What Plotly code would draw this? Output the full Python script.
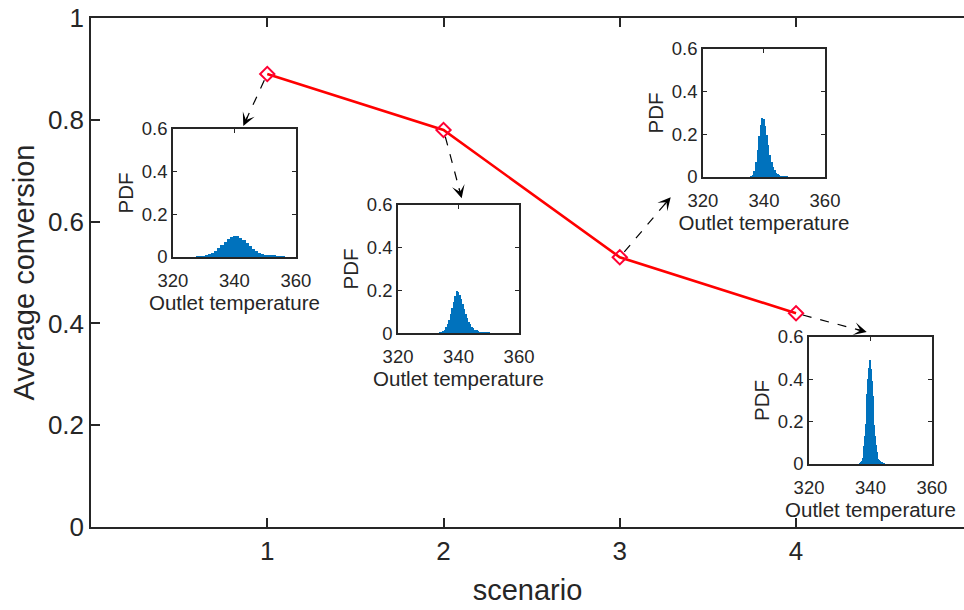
import plotly.graph_objects as go

# ---------------- data ----------------
scenarios = [1, 2, 3, 4]
avg_conversion = [0.89, 0.78, 0.53, 0.42]

x_ticks = [1, 2, 3, 4]
y_ticks = [0, 0.2, 0.4, 0.6, 0.8, 1]
y_tick_text = ["0", "0.2", "0.4", "0.6", "0.8", "1"]

inset_x_ticks = [320, 340, 360]
inset_y_ticks = [0, 0.2, 0.4, 0.6]
inset_y_text = ["0", "0.2", "0.4", "0.6"]

# histogram of outlet temperature, scenario 1 (bin width 1)
s1_centers = [328, 329, 330, 331, 332, 333, 334, 335, 336, 337, 338, 339, 340, 341, 342,
              343, 344, 345, 346, 347, 348, 349, 350, 351, 352, 353, 354, 355, 356]
s1_pdf = [0.001, 0.002, 0.004, 0.007, 0.012, 0.019, 0.029, 0.041, 0.055, 0.069, 0.083, 0.094,
          0.099, 0.097, 0.090, 0.079, 0.066, 0.052, 0.039, 0.028, 0.020, 0.014, 0.010, 0.008,
          0.006, 0.005, 0.004, 0.002, 0.001]

# scenario 2 (bin width 0.5)
s2_centers = [334.0, 334.5, 335.0, 335.5, 336.0, 336.5, 337.0, 337.5, 338.0, 338.5, 339.0,
              339.5, 340.0, 340.5, 341.0, 341.5, 342.0, 342.5, 343.0, 343.5, 344.0, 344.5,
              345.0, 345.5, 346.0, 346.5, 347.0, 347.5, 348.0, 348.5, 349.0, 349.5, 350.0]
s2_pdf = [0.002, 0.004, 0.008, 0.015, 0.026, 0.042, 0.063, 0.088, 0.116, 0.145, 0.175,
          0.195, 0.192, 0.178, 0.158, 0.135, 0.112, 0.090, 0.070, 0.053, 0.040, 0.030,
          0.022, 0.016, 0.012, 0.009, 0.007, 0.005, 0.004, 0.003, 0.002, 0.002, 0.001]

# scenario 3 (bin width 0.5)
s3_centers = [336.0, 336.5, 337.0, 337.5, 338.0, 338.5, 339.0, 339.5, 340.0, 340.5, 341.0,
              341.5, 342.0, 342.5, 343.0, 343.5, 344.0, 344.5, 345.0, 345.5, 346.0, 346.5,
              347.0, 347.5]
s3_pdf = [0.003, 0.010, 0.030, 0.070, 0.125, 0.190, 0.245, 0.278, 0.272, 0.240, 0.195,
          0.148, 0.105, 0.072, 0.048, 0.031, 0.020, 0.013, 0.009, 0.006, 0.004, 0.003,
          0.002, 0.001]

# scenario 4 (bin width 0.25)
s4_centers = [336.50, 336.75, 337.00, 337.25, 337.50, 337.75, 338.00, 338.25, 338.50, 338.75,
              339.00, 339.25, 339.50, 339.75, 340.00, 340.25, 340.50, 340.75, 341.00, 341.25,
              341.50, 341.75, 342.00, 342.25, 342.50, 342.75, 343.00, 343.25, 343.50, 343.75,
              344.00, 344.25, 344.50]
s4_pdf = [0.002, 0.004, 0.008, 0.016, 0.030, 0.052, 0.085, 0.130, 0.190, 0.260,
          0.330, 0.400, 0.455, 0.490, 0.485, 0.450, 0.390, 0.320, 0.250, 0.185,
          0.130, 0.088, 0.058, 0.038, 0.025, 0.017, 0.012, 0.009, 0.007, 0.005,
          0.004, 0.003, 0.002]

hists = [(s1_centers, s1_pdf, 1.0), (s2_centers, s2_pdf, 0.5),
         (s3_centers, s3_pdf, 0.5), (s4_centers, s4_pdf, 0.25)]

# ---------------- layout constants ----------------
W, H = 964, 610
ML, MR, MT, MB = 91, 0, 18, 83
X_RANGE = [0, 4.953]
Y_RANGE = [0, 1]

inset_domains = [
    ([0.0939, 0.2348], [0.5305, 0.7819]),
    ([0.3517, 0.4903], [0.3811, 0.6326]),
    ([0.7010, 0.8408], [0.6876, 0.9391]),
    ([0.8225, 0.9633], [0.1238, 0.3733]),
]
# arrow tips (in main-axis data coordinates)
arrow_tips = [(0.864, 0.788), (2.103, 0.646), (3.289, 0.648), (4.401, 0.383)]

FONT = "Liberation Sans, Arial, Helvetica, sans-serif"
AX = "#262626"
BLUE = "#0072BD"

fig = go.Figure()

fig.add_trace(go.Scatter(
    x=scenarios, y=avg_conversion, mode="lines+markers",
    line=dict(color="#ff0000", width=2.6),
    marker=dict(symbol="diamond-open", size=11, color="#ff0033",
                line=dict(width=2, color="#ff0033")),
    xaxis="x", yaxis="y", showlegend=False, hoverinfo="skip"))

for i, (cx, py, bw) in enumerate(hists):
    n = i + 2
    fig.add_trace(go.Bar(
        x=cx, y=py, width=[bw * 1.15] * len(cx),
        marker=dict(color=BLUE, line=dict(width=0)),
        xaxis=f"x{n}", yaxis=f"y{n}", showlegend=False, hoverinfo="skip"))

layout = dict(
    width=W, height=H,
    margin=dict(l=ML, r=MR, t=MT, b=MB, pad=0),
    paper_bgcolor="white", plot_bgcolor="rgba(0,0,0,0)",
    font=dict(family=FONT, color=AX),
    xaxis=dict(domain=[0, 1], range=X_RANGE, tickvals=x_ticks,
               ticks="inside", ticklen=9, tickwidth=1.5, tickcolor=AX,
               showline=True, linecolor=AX, linewidth=1.5, mirror="ticks",
               showgrid=False, zeroline=False,
               tickfont=dict(size=26, color=AX),
               title=dict(text="scenario", font=dict(size=29, color=AX), standoff=15),
               automargin=False),
    yaxis=dict(domain=[0, 1], range=Y_RANGE, tickvals=y_ticks, ticktext=y_tick_text,
               ticks="inside", ticklen=9, tickwidth=1.5, tickcolor=AX,
               showline=True, linecolor=AX, linewidth=1.5, mirror=False,
               showgrid=False, zeroline=False,
               tickfont=dict(size=26, color=AX),
               title=dict(text="Average conversion", font=dict(size=29, color=AX), standoff=5),
               automargin=False),
    bargap=0,
)

for i, (dx, dy) in enumerate(inset_domains):
    n = i + 2
    layout[f"xaxis{n}"] = dict(
        domain=dx, anchor=f"y{n}", range=[320, 360], tickvals=inset_x_ticks,
        ticks="inside", ticklen=4, tickwidth=1.2, tickcolor=AX,
        showline=True, linecolor=AX, linewidth=1.5, mirror="ticks",
        showgrid=False, zeroline=False, ticklabelstandoff=6, layer="below traces",
        tickfont=dict(size=18.5, color=AX),
        title=dict(text="Outlet temperature", font=dict(size=20.5, color=AX), standoff=3),
        automargin=False)
    layout[f"yaxis{n}"] = dict(
        domain=dy, anchor=f"x{n}", range=[0, 0.6], tickvals=inset_y_ticks,
        ticktext=inset_y_text,
        ticks="inside", ticklen=4, tickwidth=1.2, tickcolor=AX,
        showline=True, linecolor=AX, linewidth=1.5, mirror="ticks",
        showgrid=False, zeroline=False, layer="below traces",
        tickfont=dict(size=18.5, color=AX),
        title=dict(text="PDF", font=dict(size=20.5, color=AX), standoff=3),
        automargin=False)

fig.update_layout(**layout)

# white backgrounds for the insets
shapes = []
for dx, dy in inset_domains:
    shapes.append(dict(type="rect", xref="paper", yref="paper",
                       x0=dx[0], x1=dx[1], y0=dy[0], y1=dy[1],
                       fillcolor="white", line=dict(width=0), layer="below"))

# dashed arrows from each point to its inset
sx = (W - ML - MR) / (X_RANGE[1] - X_RANGE[0])
sy = (H - MT - MB) / (Y_RANGE[1] - Y_RANGE[0])
annotations = []
for (x0, y0), (tx, ty) in zip(zip(scenarios, avg_conversion), arrow_tips):
    dxp = (tx - x0) * sx
    dyp = -(ty - y0) * sy  # screen, down positive
    L = (dxp ** 2 + dyp ** 2) ** 0.5
    ux, uy = dxp / L, dyp / L
    sxs = x0 + 7 * ux / sx
    sys_ = y0 - 7 * uy / sy
    exs = tx - 6 * ux / sx
    eys = ty + 6 * uy / sy
    shapes.append(dict(type="line", xref="x", yref="y", x0=sxs, y0=sys_, x1=exs, y1=eys,
                       line=dict(color="black", width=1.2, dash="dash")))
    annotations.append(dict(x=tx, y=ty, xref="x", yref="y", text="", showarrow=True,
                            ax=-ux * 12, ay=-uy * 12, axref="pixel", ayref="pixel",
                            arrowhead=3, arrowsize=1.8, arrowwidth=1.2,
                            arrowcolor="black", standoff=0))

fig.update_layout(shapes=shapes, annotations=annotations)

fig.write_html("out.html")
